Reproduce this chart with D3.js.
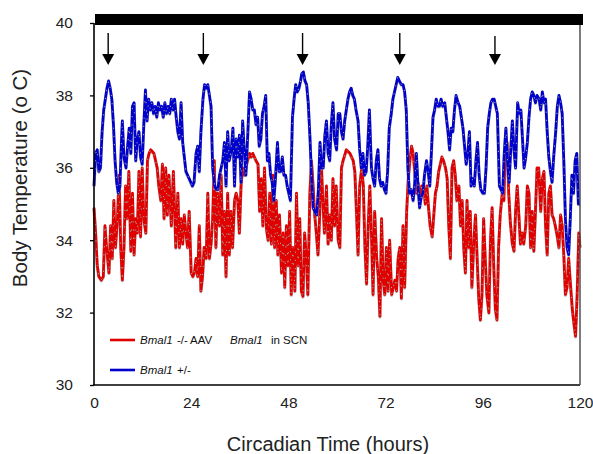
<!DOCTYPE html>
<html>
<head>
<meta charset="utf-8">
<script src="https://cdn.jsdelivr.net/npm/d3@7"></script>
<style>
  body { margin: 0; background: #fff; }
  svg { font-family: "Liberation Sans", Arial, sans-serif; }
</style>
</head>
<body>
<svg id="chart" width="593" height="454"></svg>
<script>
// Body temperature readings [hour, degC]
const blueData = [[0,35.5],[0.4,36.4],[0.8,36.5],[1.2,35.9],[1.6,36.0],[2.0,37.0],[2.4,37.6],[2.8,37.9],[3.2,38.2],[3.6,38.4],[4.0,38.2],[4.4,37.9],[4.8,37.2],[5.2,36.2],[5.6,35.6],[6.0,35.3],[6.4,35.5],[6.8,36.8],[7.0,37.3],[7.4,36.3],[7.9,36.0],[8.3,36.6],[8.7,37.1],[9.1,36.4],[9.5,37.7],[9.9,37.8],[10.3,36.2],[10.7,36.8],[11.1,37.0],[11.5,36.3],[11.9,36.1],[12.3,37.2],[12.7,38.15],[13.1,37.3],[13.5,37.9],[13.9,37.6],[14.3,37.8],[14.7,37.5],[15.1,37.7],[15.5,37.4],[15.9,37.8],[16.3,37.6],[16.7,37.7],[17.1,37.4],[17.5,37.8],[17.9,37.5],[18.3,37.7],[18.7,37.5],[19.1,37.9],[19.5,37.6],[19.9,37.9],[20.3,37.4],[20.7,37.0],[21.1,36.8],[21.5,37.8],[21.9,36.7],[22.3,36.3],[22.7,35.9],[23.1,35.8],[23.5,35.7],[23.9,35.6],[24.3,35.5],[24.7,35.6],[25.2,36.4],[25.6,36.6],[26.0,35.9],[26.4,37.0],[26.9,37.9],[27.3,38.3],[27.7,38.2],[28.1,38.3],[28.5,38.0],[28.9,37.7],[29.3,36.0],[29.8,35.5],[30.2,35.4],[30.6,35.4],[31.0,35.8],[31.4,36.0],[31.8,36.2],[32.2,36.7],[32.6,35.5],[33.0,37.0],[33.4,36.2],[33.9,36.5],[34.3,37.1],[34.7,35.5],[35.1,36.8],[35.5,36.3],[35.9,36.9],[36.3,35.6],[36.7,37.3],[37.1,36.5],[37.5,35.8],[38.0,37.0],[38.4,38.1],[38.8,37.9],[39.2,37.6],[39.6,37.6],[40.0,37.2],[40.4,37.4],[40.8,36.6],[41.2,36.8],[41.6,37.5],[42.0,37.7],[42.4,38.0],[42.8,36.2],[43.2,36.4],[43.6,35.8],[44.0,35.6],[44.4,35.1],[44.8,35.7],[45.3,36.7],[45.7,35.9],[46.1,35.9],[46.5,36.3],[46.9,35.8],[47.3,35.8],[47.7,35.5],[48.1,35.3],[48.5,35.1],[49.0,37.4],[49.4,37.9],[49.8,38.3],[50.2,38.1],[50.6,38.2],[51.0,38.4],[51.3,38.6],[51.7,38.65],[52.1,38.4],[52.5,38.3],[52.9,37.8],[53.3,36.9],[53.7,35.8],[54.1,34.9],[54.5,34.8],[55.0,34.7],[55.4,35.4],[55.8,36.7],[56.2,36.0],[56.6,36.0],[57.0,36.9],[57.4,37.3],[57.8,36.4],[58.2,36.2],[58.6,37.2],[59.0,37.8],[59.4,36.8],[59.9,36.5],[60.3,37.5],[60.7,37.5],[61.1,37.0],[61.5,36.8],[61.9,37.3],[62.3,37.6],[62.7,37.9],[63.1,38.1],[63.5,38.2],[63.9,38.0],[64.3,37.9],[64.7,37.6],[65.2,37.3],[65.6,36.5],[66.0,36.0],[66.4,36.4],[66.8,35.8],[67.2,35.9],[67.6,36.6],[68.0,37.6],[68.5,36.0],[68.9,35.7],[69.3,35.5],[69.7,36.2],[70.1,36.5],[70.5,35.7],[70.9,35.5],[71.3,35.6],[71.7,35.4],[72.1,35.3],[72.5,35.9],[72.9,37.1],[73.4,37.5],[73.8,37.9],[74.2,38.1],[74.6,38.3],[75.0,38.5],[75.4,38.4],[75.9,38.3],[76.3,38.3],[76.7,38.1],[77.1,37.6],[77.5,36.0],[77.9,35.3],[78.3,35.4],[78.8,35.1],[79.2,35.6],[79.6,36.4],[80.0,35.5],[80.4,34.9],[80.8,35.2],[81.2,35.3],[81.6,35.8],[82.1,36.2],[82.5,35.9],[82.9,35.5],[83.3,36.4],[83.7,37.4],[84.1,37.6],[84.5,37.9],[84.9,37.7],[85.3,37.7],[85.7,37.9],[86.1,37.7],[86.6,37.8],[87.0,37.4],[87.4,37.0],[87.8,36.5],[88.2,37.1],[88.6,37.0],[89.0,37.6],[89.4,38.0],[89.9,37.8],[90.3,37.7],[90.7,37.4],[91.1,37.1],[91.5,36.6],[91.9,36.1],[92.3,36.4],[92.7,37.0],[93.1,35.5],[93.5,35.7],[93.9,35.5],[94.3,36.2],[94.7,36.7],[95.1,35.8],[95.5,35.4],[96.0,35.3],[96.4,35.3],[96.8,36.0],[97.2,37.1],[97.6,37.5],[98.0,37.8],[98.4,37.9],[98.8,37.9],[99.2,37.7],[99.6,37.5],[100.1,35.5],[100.5,35.4],[100.9,35.3],[101.3,36.4],[101.7,37.1],[102.1,36.2],[102.5,35.6],[102.9,36.5],[103.3,37.3],[103.7,36.5],[104.1,36.0],[104.6,37.8],[105.0,37.5],[105.4,37.6],[105.8,36.8],[106.2,36.0],[106.6,36.3],[107.0,36.7],[107.4,37.4],[107.8,37.9],[108.2,38.1],[108.6,38.0],[109.0,37.8],[109.4,38.0],[109.9,37.9],[110.3,37.6],[110.7,38.1],[111.1,37.8],[111.5,37.9],[111.9,37.0],[112.3,36.3],[112.7,35.9],[113.1,35.6],[113.5,36.3],[114.0,37.0],[114.4,37.7],[114.8,38.0],[115.2,37.8],[115.6,37.5],[116.0,36.2],[116.4,34.6],[116.8,33.8],[117.2,33.6],[117.6,34.6],[118.0,35.8],[118.4,35.3],[118.8,36.2],[119.2,36.4],[119.6,35.0],[120.0,35.0]];

const redData = [[0,34.9],[0.4,34.2],[0.8,33.3],[1.2,33.0],[1.8,32.9],[2.3,33.0],[2.7,34.4],[3.1,33.8],[3.7,33.1],[4.1,34.4],[4.5,33.5],[4.9,35.1],[5.3,33.8],[5.8,34.6],[6.2,35.8],[6.6,33.8],[7.0,32.9],[7.4,33.8],[7.8,35.5],[8.2,34.6],[8.6,35.9],[9.1,33.7],[9.5,35.3],[9.9,33.6],[10.3,34.6],[10.7,34.2],[11.1,35.9],[11.5,34.1],[11.9,36.0],[12.3,34.6],[12.8,34.2],[13.2,36.2],[13.6,36.4],[14.0,36.5],[14.4,36.45],[14.8,36.4],[15.2,36.2],[15.6,36.0],[16.0,35.5],[16.5,35.1],[16.9,36.1],[17.3,34.6],[17.7,36.0],[18.1,34.7],[18.5,35.8],[19.1,34.4],[19.6,35.9],[20.2,33.8],[20.7,35.3],[21.1,33.8],[21.5,34.6],[21.9,33.9],[22.3,34.7],[22.7,34.2],[23.1,33.8],[23.5,34.8],[24.0,33.1],[24.4,33.0],[24.8,33.1],[25.2,33.5],[25.6,33.0],[26.0,34.4],[26.4,32.6],[26.8,33.0],[27.2,33.8],[27.7,33.5],[28.1,35.3],[28.5,33.5],[28.9,33.9],[29.3,34.6],[29.7,36.2],[30.1,33.8],[30.5,35.3],[31.0,34.4],[31.4,35.8],[31.8,33.6],[32.2,34.8],[32.6,33.0],[33.0,35.3],[33.4,33.6],[33.8,34.8],[34.2,33.8],[34.7,35.1],[35.1,35.3],[35.5,35.1],[35.9,34.2],[36.3,35.5],[36.7,36.0],[37.1,35.8],[37.5,36.0],[37.9,36.2],[38.4,36.4],[38.8,36.3],[39.2,36.4],[39.6,36.3],[40.0,36.2],[40.5,36.1],[40.9,34.8],[41.3,35.7],[41.7,34.4],[42.1,36.0],[42.6,34.3],[43.0,34.0],[43.4,35.3],[43.8,33.9],[44.2,35.8],[44.6,33.8],[45.0,35.1],[45.4,33.6],[45.8,34.7],[46.3,33.1],[46.7,34.2],[47.1,32.7],[47.5,34.4],[47.9,33.3],[48.3,34.8],[48.7,32.5],[49.1,33.8],[49.6,32.6],[50.0,35.3],[50.4,33.3],[50.8,34.6],[51.2,32.6],[51.6,32.45],[52.0,34.2],[52.4,33.6],[52.8,32.5],[53.3,35.3],[53.7,36.2],[54.1,35.5],[54.5,34.7],[54.9,34.2],[55.3,33.6],[55.7,34.6],[56.1,36.2],[56.5,35.1],[56.9,34.2],[57.4,35.5],[57.8,33.9],[58.2,34.7],[58.6,34.0],[59.0,35.7],[59.4,34.4],[59.8,35.5],[60.3,34.0],[60.7,33.8],[61.1,36.0],[61.5,36.2],[62.3,36.5],[63.2,36.4],[64.0,36.2],[64.4,35.9],[64.8,34.8],[65.2,33.6],[65.6,35.5],[66.1,36.0],[66.5,35.5],[66.9,33.8],[67.3,32.8],[67.7,34.4],[68.1,35.5],[68.5,34.2],[68.9,32.5],[69.3,34.8],[69.8,33.5],[70.2,33.0],[70.6,31.9],[71.0,34.6],[71.4,32.9],[71.8,32.5],[72.2,33.8],[72.6,32.6],[73.0,34.0],[73.5,32.5],[73.9,32.7],[74.3,32.9],[74.7,32.6],[75.1,33.5],[75.5,33.8],[75.9,32.4],[76.3,34.4],[76.7,32.7],[77.2,34.8],[77.6,35.7],[78.0,36.2],[78.4,36.6],[78.8,36.4],[79.2,35.9],[79.6,35.3],[80.0,35.6],[80.5,35.1],[80.9,35.5],[81.4,35.5],[81.8,35.0],[82.2,35.5],[82.6,34.9],[83.0,34.4],[83.5,34.1],[83.9,34.7],[84.3,35.3],[84.7,35.5],[85.1,35.9],[85.5,36.1],[85.9,36.3],[86.3,36.2],[86.8,36.0],[87.2,35.7],[87.6,34.4],[88.0,33.5],[88.4,36.0],[88.8,36.2],[89.2,35.8],[89.6,35.1],[90.1,35.5],[90.5,34.4],[90.9,35.1],[91.3,33.8],[91.7,33.1],[92.1,35.1],[92.5,33.8],[92.9,34.8],[93.3,32.7],[93.8,34.0],[94.2,34.7],[94.6,33.5],[95.0,32.4],[95.4,31.8],[95.8,32.5],[96.2,34.6],[96.6,33.5],[97.0,32.5],[97.5,32.0],[97.9,34.0],[98.3,34.9],[98.7,33.3],[99.1,32.1],[99.5,31.8],[99.9,33.8],[100.3,34.7],[100.8,35.3],[101.2,35.1],[101.6,36.8],[102.0,36.7],[102.4,35.3],[102.8,34.5],[103.3,33.9],[103.7,33.7],[104.1,34.8],[104.5,35.5],[104.9,34.7],[105.3,33.9],[105.7,34.2],[106.1,33.9],[106.6,34.4],[107.0,35.5],[107.4,35.3],[107.8,33.8],[108.2,34.8],[108.6,33.7],[109.0,34.8],[109.4,36.0],[109.8,36.0],[110.3,34.8],[110.7,35.7],[111.1,35.9],[111.5,34.4],[111.9,33.6],[112.3,35.3],[112.7,35.5],[113.1,34.7],[113.5,34.6],[113.9,34.4],[114.4,34.1],[114.8,33.8],[115.2,34.7],[115.6,34.4],[116.0,33.6],[116.4,32.5],[116.8,32.7],[117.2,33.5],[117.7,32.7],[118.1,32.1],[118.5,31.7],[118.9,31.35],[119.3,32.5],[119.7,34.2],[120.0,33.8]];

// arrows marking peaks (hours)
const arrowHours = [3.5, 27, 51.5, 75.5, 99];
const yTicks = [30, 32, 34, 36, 38, 40];
const xTicks = [0, 24, 48, 72, 96, 120];

const svg = d3.select("#chart");

const x = d3.scaleLinear().domain([0, 120]).range([94, 580]);
const y = d3.scaleLinear().domain([30, 40]).range([385, 23]);

// Lines (red first, blue on top)
const line = d3.line().x(d => x(d[0])).y(d => y(d[1]));

function drawSeries(data, color) {
    // faint grey edge under the trace
    svg.append("path")
        .attr("d", line(data))
        .attr("fill", "none")
        .attr("stroke", "#8a8a8a")
        .attr("stroke-opacity", 0.6)
        .attr("stroke-width", 3.2)
        .attr("stroke-linejoin", "round")
        .attr("transform", "translate(0,0.7)");
    svg.append("path")
        .attr("d", line(data))
        .attr("fill", "none")
        .attr("stroke", color)
        .attr("stroke-width", 2.7)
        .attr("stroke-linejoin", "round");
    // grey speckles along the trace
    svg.append("path")
        .attr("d", line(data))
        .attr("fill", "none")
        .attr("stroke", "#a8a8a8")
        .attr("stroke-width", 1)
        .attr("stroke-dasharray", "1.2 7");
}
drawSeries(redData, "#e00000");
drawSeries(blueData, "#0000cc");

// Axes
const yAxis = svg.append("g")
    .attr("transform", `translate(${x(0)},0)`)
    .call(d3.axisLeft(y).tickValues(yTicks).tickSize(4).tickPadding(17));
yAxis.select(".domain").remove();
yAxis.selectAll("line").attr("stroke", "#000").attr("stroke-width", 1.3);
yAxis.selectAll("text").attr("font-size", 15.5).attr("fill", "#222")
    .attr("font-family", "Liberation Sans, Arial, sans-serif");

const xAxis = svg.append("g")
    .attr("transform", `translate(0,${y(30)})`)
    .call(d3.axisBottom(x).tickValues(xTicks).tickSize(0).tickPadding(12));
xAxis.select(".domain").remove();
xAxis.selectAll("text").attr("font-size", 15.5).attr("fill", "#222")
    .attr("font-family", "Liberation Sans, Arial, sans-serif");

// frame lines
svg.append("line").attr("x1", x(0)).attr("x2", x(0)).attr("y1", y(40)).attr("y2", y(30))
    .attr("stroke", "#000").attr("stroke-width", 1.6);
svg.append("line").attr("x1", x(0) - 1).attr("x2", x(120)).attr("y1", y(30)).attr("y2", y(30))
    .attr("stroke", "#000").attr("stroke-width", 1.6);
svg.append("line").attr("x1", x(120)).attr("x2", x(120)).attr("y1", y(40) + 2).attr("y2", y(30))
    .attr("stroke", "#444").attr("stroke-width", 1.4);

// black bar on top (constant darkness)
svg.append("rect")
    .attr("x", x(0) + 1).attr("y", y(40) - 9)
    .attr("width", x(120) - x(0) + 2).attr("height", 11)
    .attr("fill", "#000");

// arrows
arrowHours.forEach((h, i) => {
    const top = i === arrowHours.length - 1 ? 36 : 33;
    const tip = 65;
    svg.append("line")
        .attr("x1", x(h)).attr("x2", x(h))
        .attr("y1", top).attr("y2", tip - 8)
        .attr("stroke", "#000").attr("stroke-width", 1.4);
    svg.append("path")
        .attr("d", `M${x(h) - 6},${tip - 11} L${x(h) + 6},${tip - 11} L${x(h)},${tip} Z`)
        .attr("fill", "#000");
});

// legend
const legend = [
    { color: "#e00000", y: 340, parts: [["Bmal1", true, 140], ["-/-", false, 177], ["AAV", false, 190], ["Bmal1", true, 230], ["in", false, 271], ["SCN", false, 283]] },
    { color: "#0000cc", y: 370, parts: [["Bmal1", true, 140], ["+/-", false, 177]] }
];
legend.forEach(l => {
    svg.append("line").attr("x1", 110).attr("x2", 135).attr("y1", l.y).attr("y2", l.y)
        .attr("stroke", l.color).attr("stroke-width", 2.6);
    const t = svg.append("text").attr("y", l.y + 4).attr("font-size", 11.5).attr("fill", "#111");
    l.parts.forEach(p => {
        t.append("tspan").attr("x", p[2]).attr("font-style", p[1] ? "italic" : "normal").text(p[0]);
    });
});

// axis titles
svg.append("text")
    .attr("x", 328).attr("y", 451)
    .attr("text-anchor", "middle")
    .attr("font-size", 20).attr("fill", "#222")
    .text("Circadian Time (hours)");

svg.append("text")
    .attr("transform", "translate(27,178) rotate(-90)")
    .attr("text-anchor", "middle")
    .attr("font-size", 20.5).attr("fill", "#222")
    .text("Body Temperature (o C)");
</script>
</body>
</html>
